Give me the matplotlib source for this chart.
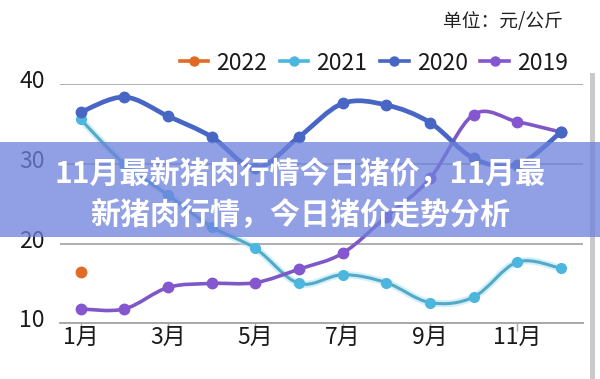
import matplotlib
matplotlib.use("Agg")
import matplotlib.pyplot as plt
from matplotlib.path import Path
from matplotlib.patches import PathPatch, Rectangle
from matplotlib.lines import Line2D
from matplotlib.transforms import ScaledTranslation

plt.rcParams['font.family'] = ['Noto Sans CJK SC', 'DejaVu Sans']

months = list(range(1, 13))
tick_months = [1, 3, 5, 7, 9, 11]
tick_labels = ['1月', '3月', '5月', '7月', '9月', '11月']
y_ticks = [10, 20, 30, 40]

s2022 = [16.4]
s2021 = [35.6, 30.0, 26.1, 22.1, 19.4, 15.0, 16.1, 15.1, 12.6, 13.3, 17.7, 16.9]
s2020 = [36.5, 38.4, 36.0, 33.4, 29.5, 33.4, 37.6, 37.4, 35.2, 30.7, 29.9, 34.0]
s2019 = [11.8, 11.8, 14.5, 15.0, 15.1, 16.8, 18.8, 23.4, 28.2, 36.2, 35.3, 34.0]

series_names = ['2022', '2021', '2020', '2019']
unit_text = '单位：元/公斤'
banner_lines = ['11月最新猪肉行情今日猪价，11月最', '新猪肉行情，今日猪价走势分析']

fig = plt.figure(figsize=(6.0, 3.79), dpi=100)
fig.patch.set_facecolor('white')
ax = fig.add_axes([60/600, 1-323.3/379, (583-60)/600, (323.3-84.3)/379])
ax.set_xlim(0.526, 12.504)
ax.set_ylim(10, 40)


def smooth_path(xs, ys):
    pts = list(zip(xs, ys))
    n = len(pts)
    verts = [pts[0]]
    codes = [Path.MOVETO]
    for i in range(n - 1):
        p0 = pts[i - 1] if i > 0 else pts[i]
        p1 = pts[i]
        p2 = pts[i + 1]
        p3 = pts[i + 2] if i + 2 < n else pts[i + 1]
        c1 = (p1[0] + (p2[0] - p0[0]) / 6, p1[1] + (p2[1] - p0[1]) / 6)
        c2 = (p2[0] - (p3[0] - p1[0]) / 6, p2[1] - (p3[1] - p1[1]) / 6)
        verts += [c1, c2, p2]
        codes += [Path.CURVE4] * 3
    return Path(verts, codes)


def draw_series(vals, line_color, marker_color, lw, ms, z, glow=None):
    xs = months[:len(vals)]
    path = smooth_path(xs, vals)
    if glow is not None:
        ax.add_patch(PathPatch(path, facecolor='none', edgecolor=glow, lw=lw + 3,
                               alpha=0.5, zorder=z - 0.1, clip_on=False, capstyle='round'))
    ax.add_patch(PathPatch(path, facecolor='none', edgecolor=line_color, lw=lw,
                           zorder=z, clip_on=False, capstyle='round'))
    ax.plot(xs, vals, linestyle='none', marker='o', ms=ms, color=marker_color,
            mec=marker_color, zorder=z + 0.05, clip_on=False)


c2022 = '#e06a26'
c2021 = '#4cb6de'
c2020 = '#4866c4'
c2019 = '#8456cf'

draw_series(s2021, '#54a9c6', c2021, 2.2, 7, 3, glow='#a6e2f5')
draw_series(s2019, '#7f58c6', c2019, 2.6, 7.5, 4)
draw_series(s2020, c2020, c2020, 3.4, 7.5, 5)
ax.plot(months[:len(s2022)], s2022, linestyle='none', marker='o', ms=7.5,
        color=c2022, zorder=6, clip_on=False)

# axes styling
for sp in ['top', 'right', 'left']:
    ax.spines[sp].set_visible(False)
ax.spines['bottom'].set_color('#a8a8a8')
ax.spines['bottom'].set_linewidth(1.4)
ax.set_yticks(y_ticks)
ax.set_yticklabels([str(v) for v in y_ticks], fontweight='light')
ax.set_xticks(tick_months)
ax.set_xticklabels(tick_labels, fontweight='light')
ax.yaxis.grid(True, color='#a8a8a8', lw=1.3)
ax.set_axisbelow(True)
ax.tick_params(axis='y', length=0, pad=11, labelsize=16.5, labelcolor='#1a1a1a')
ax.tick_params(axis='x', length=6, width=1, color='#a8a8a8', pad=-4,
               labelsize=16.5, labelcolor='#1a1a1a')
for lab in ax.get_yticklabels():
    lab.set_transform(lab.get_transform() + ScaledTranslation(0, 5/100, fig.dpi_scale_trans))

# legend
handles = [
    Line2D([], [], color=c2022, lw=2.6, marker='o', ms=6.5),
    Line2D([], [], color=c2021, lw=2.6, marker='o', ms=6.5),
    Line2D([], [], color=c2020, lw=2.6, marker='o', ms=6.5),
    Line2D([], [], color=c2019, lw=2.6, marker='o', ms=6.5),
]
leg = fig.legend(handles, series_names, loc='center right', ncol=4,
                 bbox_to_anchor=(568/600, 1-63/379), frameon=False,
                 prop={'size': 16.5, 'weight': 'light'}, handlelength=1.25,
                 handletextpad=0.35, columnspacing=0.55, borderpad=0, borderaxespad=0)
for t in leg.get_texts():
    t.set_color('#1a1a1a')

# unit text
fig.text(563/600, 1-21/379, unit_text, ha='right', va='center', fontsize=13.5,
         color='#222222')

# right gray edge
fig.add_artist(Rectangle((590/600, 0), 5/600, 1-73/379, transform=fig.transFigure,
                         facecolor='#c9c9c9', edgecolor='none', zorder=8))

# banner
fig.add_artist(Rectangle((0, 1-237/379), 1, (237-142)/379, transform=fig.transFigure,
                         facecolor='#6e82dc', edgecolor='none', alpha=0.76, zorder=10))
fig.text(0.5, 1-174/379, banner_lines[0], ha='center', va='center', fontsize=21.6,
         fontweight='heavy', color='white', zorder=11)
fig.text(0.5, 1-215/379, banner_lines[1], ha='center', va='center', fontsize=21.6,
         fontweight='heavy', color='white', zorder=11)

fig.savefig('out.png', dpi=100, facecolor='white')
